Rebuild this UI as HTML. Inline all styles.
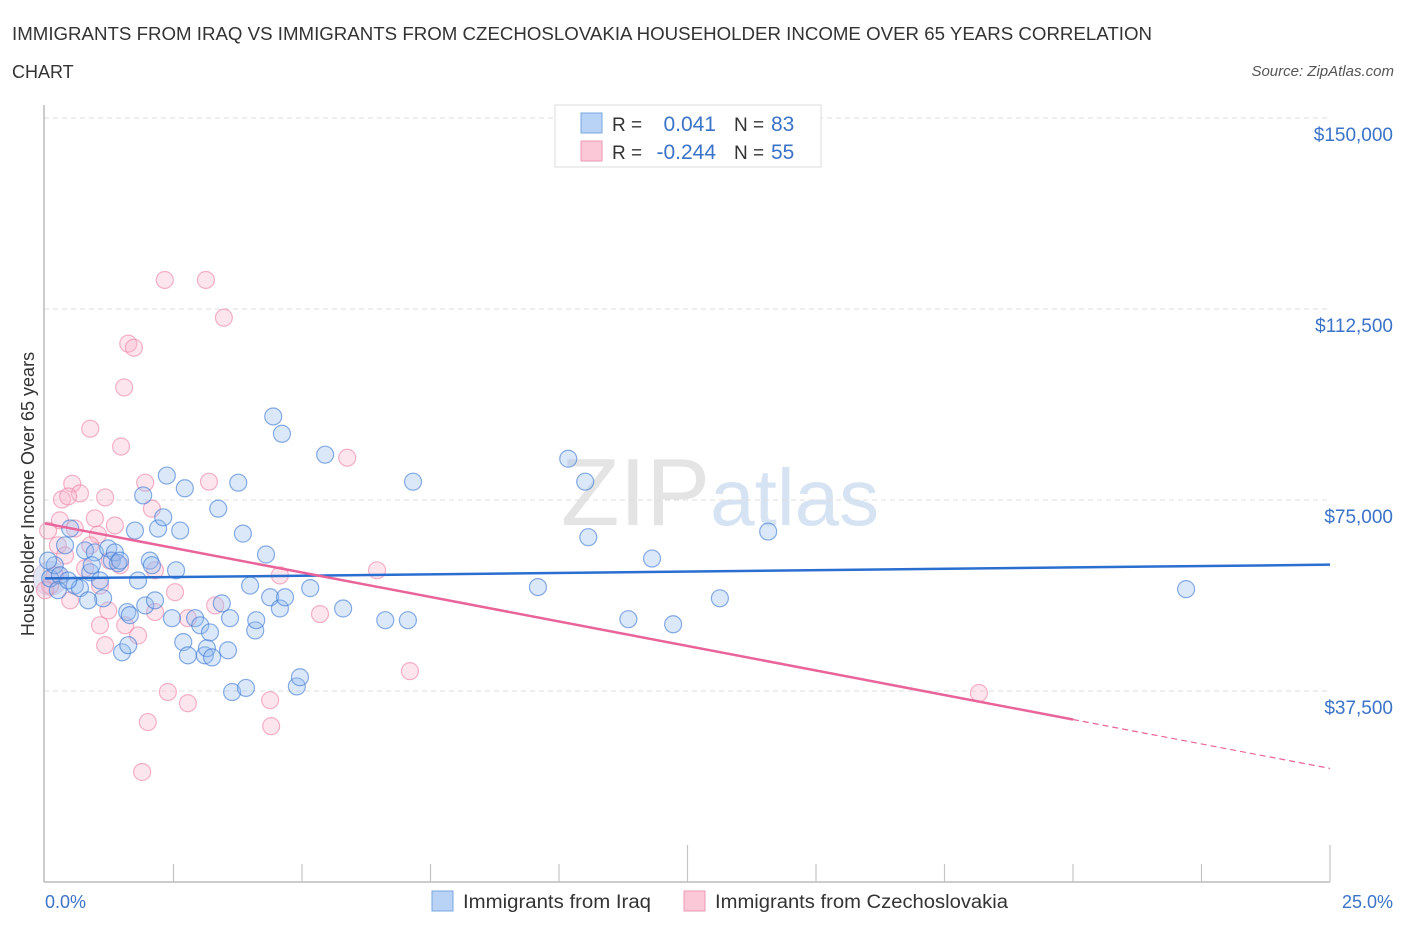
<!DOCTYPE html>
<html><head><meta charset="utf-8"><style>
body{margin:0;background:#fff;font-family:"Liberation Sans",sans-serif;}
svg text{font-family:"Liberation Sans",sans-serif;}
</style></head><body>
<svg id="chart" width="1406" height="930" xmlns="http://www.w3.org/2000/svg">
<text x="12" y="40" font-size="18" fill="#333" textLength="1140" lengthAdjust="spacingAndGlyphs">IMMIGRANTS FROM IRAQ VS IMMIGRANTS FROM CZECHOSLOVAKIA HOUSEHOLDER INCOME OVER 65 YEARS CORRELATION</text>
<text x="12" y="78" font-size="18" fill="#333">CHART</text>
<text x="1394" y="76" font-size="15" fill="#555" font-style="italic" text-anchor="end">Source: ZipAtlas.com</text>
<text x="720" y="525" font-size="96" text-anchor="middle" fill="#e4e4e4" font-family="Liberation Serif">ZIP<tspan fill="#d6e3f3" font-family="Liberation Sans" font-size="80">atlas</tspan></text>
<g id="grid"></g>
<line x1="44" y1="105" x2="44" y2="882" stroke="#bbb" stroke-width="1.5"/>
<line x1="44" y1="882" x2="1330" y2="882" stroke="#bbb" stroke-width="1.5"/>
<g id="xticks"></g>
<g id="points"></g>
<g id="lines"></g>
<text transform="translate(34,494) rotate(-90)" font-size="18" fill="#333" text-anchor="middle">Householder Income Over 65 years</text>
<text x="45" y="908" font-size="18" fill="#3b73c8">0.0%</text>
<text x="1393" y="908" font-size="18" fill="#3b73c8" text-anchor="end">25.0%</text>
<g>
<rect x="555" y="105" width="266" height="62" fill="#fff" stroke="#ddd"/>
<rect x="581" y="113" width="21" height="20" fill="#b8d3f5" stroke="#7aa7e0"/>
<rect x="581" y="141" width="21" height="20" fill="#fbc8d8" stroke="#ee9ab5"/>
<text x="612" y="131" font-size="19" fill="#333">R = </text>
<text x="716" y="131" font-size="21" fill="#3b73c8" text-anchor="end">0.041</text>
<text x="734" y="131" font-size="19" fill="#333">N = </text>
<text x="771" y="131" font-size="21" fill="#3b73c8">83</text>
<text x="612" y="159" font-size="19" fill="#333">R = </text>
<text x="716" y="159" font-size="21" fill="#3b73c8" text-anchor="end">-0.244</text>
<text x="734" y="159" font-size="19" fill="#333">N = </text>
<text x="771" y="159" font-size="21" fill="#3b73c8">55</text>
</g>
<g>
<rect x="432" y="891" width="21" height="20" fill="#b8d3f5" stroke="#7aa7e0"/>
<text x="463" y="908" font-size="19" fill="#333" textLength="188" lengthAdjust="spacingAndGlyphs">Immigrants from Iraq</text>
<rect x="684" y="891" width="21" height="20" fill="#fbc8d8" stroke="#ee9ab5"/>
<text x="715" y="908" font-size="19" fill="#333" textLength="293" lengthAdjust="spacingAndGlyphs">Immigrants from Czechoslovakia</text>
</g>
</svg>
<script>
const yTicks=[37500,75000,112500,150000];
const yTickLabels=["$37,500","$75,000","$112,500","$150,000"];
const xTickVals=[0,2.5,5,7.5,10,12.5,15,17.5,20,22.5,25];
const iraqX=[0.10,0.19,0.29,0.39,0.49,0.58,0.68,0.78,0.88,0.97,1.07,1.13,1.23,1.30,1.36,1.42,1.50,1.60,1.62,1.65,1.75,1.81,1.91,1.95,2.04,2.08,2.14,2.20,2.30,2.37,2.47,2.55,2.63,2.69,2.72,2.78,2.92,3.02,3.11,3.15,3.21,3.25,3.37,3.44,3.56,3.60,3.64,3.76,3.85,3.91,3.99,4.09,4.11,4.30,4.38,4.44,4.57,4.61,4.67,4.90,4.96,5.16,5.45,5.80,6.62,7.06,7.16,9.59,10.18,10.51,10.57,11.35,11.81,12.22,13.13,14.07,22.20,0.06,0.25,0.45,0.84,0.91,1.46];
const iraqY=[59600,62200,60200,66100,69400,58200,57700,65100,60800,64700,59200,55700,65500,63100,64700,62600,45100,53000,46500,52400,69000,59200,75900,54300,63100,62200,55300,69400,71600,79800,51800,61200,69000,47100,77300,44500,51800,50400,44500,45900,49000,44100,73300,54700,45500,51800,37300,78400,68400,38100,58200,49400,51400,64300,55900,91400,53700,88000,55900,38400,40200,57700,83900,53700,51400,51400,78600,57900,83100,78600,67700,51600,63500,50600,55700,68800,57500,63100,57300,59200,55300,62200,63100];
const czX=[2.33,3.13,3.48,1.62,1.73,1.54,0.88,1.48,5.88,0.53,1.95,3.19,0.68,0.33,1.17,0.45,2.08,0.97,0.29,1.36,0.58,0.06,1.03,0.25,0.88,1.26,2.14,1.46,0.39,0.78,4.57,6.46,1.07,0.10,2.53,3.31,1.23,1.56,1.07,2.14,2.78,1.17,1.81,5.35,2.39,2.78,4.38,2.00,7.10,4.40,1.89,18.17,0.49,0.0,0.19];
const czY=[118200,118200,110800,105700,104900,97100,89000,85500,83300,78200,78400,78600,76300,75100,75500,75700,73300,71400,71000,70000,69400,69000,68200,66100,66100,63100,61200,62200,64100,61600,60200,61200,58200,58200,56900,54300,53300,50400,50400,53000,51800,46500,48400,52600,37300,35100,35700,31400,41400,30600,21600,37100,55300,57300,60200];
const iraqTrend=[[0,59600],[25,62300]];
const czTrend=[[0,70400],[20,31900],[25,22300]];
const NS="http://www.w3.org/2000/svg";
function xs(p){return 45+p/25*1285;}
function ys(v){return 882-v/150000*764;}
function mk(tag,attrs,parent){const e=document.createElementNS(NS,tag);for(const k in attrs)e.setAttribute(k,attrs[k]);parent.appendChild(e);return e;}
const grid=document.getElementById('grid');
yTicks.forEach((v,i)=>{
 const l=mk('line',{x1:44,x2:1330,y1:ys(v),y2:ys(v),stroke:'#ddd','stroke-dasharray':'5,4'},grid);
 
 
 const t=mk('text',{x:1393,y:ys(v)+23,'font-size':19,fill:'#3b73c8','text-anchor':'end'},grid);
 t.textContent=yTickLabels[i];
 
 
});
const xt=document.getElementById('xticks');
xTickVals.forEach(v=>{
 if(v===0) return;
 const tall=(v===12.5||v===25);
 const l=mk('line',{x1:xs(v),x2:xs(v),y1:882,y2:tall?845:864,stroke:'#c4c4c4','stroke-width':1.2},xt);
 
 
});
const pts=document.getElementById('points');
let big=mk('circle',{cx:xs(0.1),cy:ys(59600),r:17,fill:'rgba(160,170,220,0.3)',stroke:'rgba(200,140,190,0.4)'},pts);


czX.forEach((x,i)=>{
 const c=mk('circle',{cx:xs(x),cy:ys(czY[i]),r:8.5,fill:'rgba(248,180,203,0.35)',stroke:'rgba(236,130,165,0.6)','stroke-width':1.2},pts);
 
 
});
iraqX.forEach((x,i)=>{
 const c=mk('circle',{cx:xs(x),cy:ys(iraqY[i]),r:8.5,fill:'rgba(150,190,240,0.35)',stroke:'rgba(60,120,210,0.6)','stroke-width':1.2},pts);
 
 
});
const lines=document.getElementById('lines');
let bl=mk('line',{x1:xs(iraqTrend[0][0]),y1:ys(iraqTrend[0][1]),x2:xs(iraqTrend[1][0]),y2:ys(iraqTrend[1][1]),stroke:'#2a6fd0','stroke-width':2.5},lines);


let pl=mk('line',{x1:xs(czTrend[0][0]),y1:ys(czTrend[0][1]),x2:xs(czTrend[1][0]),y2:ys(czTrend[1][1]),stroke:'#e8649a','stroke-width':2.5},lines);


let pd=mk('line',{x1:xs(czTrend[1][0]),y1:ys(czTrend[1][1]),x2:xs(czTrend[2][0]),y2:ys(czTrend[2][1]),stroke:'#e8649a','stroke-width':1.2,'stroke-dasharray':'6,4'},lines);


</script>
</body></html>
